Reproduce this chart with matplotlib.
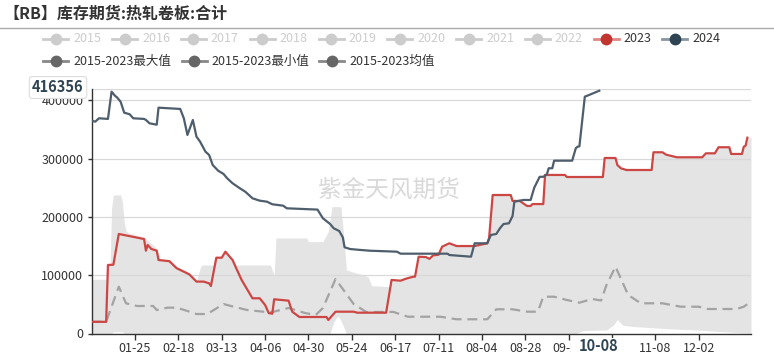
import numpy as np
import matplotlib
matplotlib.use("Agg")
import matplotlib.pyplot as plt
from matplotlib.lines import Line2D
from matplotlib.patches import Rectangle

plt.rcParams['font.family'] = ['Noto Sans CJK SC', 'DejaVu Sans']

# ---------------- data (day index on a 366-day MM-DD axis) ----------------
d2023 = [0, 8, 9, 12, 15, 29, 30, 31, 33, 36, 37, 43, 47, 54, 58, 62, 65, 66, 69, 72, 74, 78, 80, 83,
         89, 93, 96, 98, 100, 101, 109, 111, 115, 130, 131, 135, 145, 147, 163, 166, 171, 174, 178,
         179, 181, 185, 187, 189, 192, 194, 198, 202, 212, 219, 220, 222, 232, 233, 237, 241, 243,
         244, 250, 251, 262, 263, 283, 284, 290, 291, 293, 296, 310, 311, 316, 318, 324, 338, 340,
         345, 347, 353, 354, 360, 361, 362, 363]
v2023 = [20000, 20000, 117500, 118000, 170700, 162000, 142000, 151800, 145000, 142000, 126000,
         124000, 112000, 101500, 89000, 89000, 86000, 81500, 130000, 130000, 140300, 126000, 112000,
         91800, 60400, 60400, 48900, 35000, 34000, 58700, 56300, 37400, 28300, 28300, 23200, 37400,
         37400, 35700, 35700, 91800, 90600, 94000, 97400, 97400, 131700, 131000, 128000, 134000,
         135000, 148900, 154700, 150000, 150000, 154700, 163800, 237500, 237500, 227300, 227300,
         218700, 218700, 222000, 222000, 271900, 271900, 268400, 268400, 301000, 301000, 289000,
         283300, 280400, 280400, 310800, 310800, 306700, 302200, 302200, 309000, 309000, 319400,
         319400, 307900, 307900, 320400, 322000, 335800]

d2024 = [0, 2, 4, 9, 11, 13, 14, 16, 18, 21, 23, 29, 30, 32, 36, 37, 49, 51, 53, 56, 58, 60, 63, 65,
         67, 70, 73, 75, 78, 82, 85, 87, 89, 93, 97, 100, 106, 108, 125, 128, 132, 134, 137, 139,
         140, 143, 149, 154, 169, 171, 197, 198, 210, 212, 219, 221, 224, 226, 228, 231, 233, 234,
         239, 243, 245, 248, 250, 252, 253, 255, 256, 266, 268, 269, 270, 273, 275, 281]
v2024 = [365000, 363300, 369100, 368000, 414700, 407400, 405000, 397600, 378700, 376000, 369100,
         368000, 366300, 360500, 358100, 387300, 385100, 369100, 340500, 366200, 337600, 329000,
         311800, 306200, 289000, 279200, 273600, 266200, 257600, 249100, 243200, 237600, 231900,
         227800, 226100, 221600, 219200, 214700, 212500, 197600, 187800, 180400, 175800, 165000,
         147900, 144900, 143200, 142000, 140300, 136900, 136900, 134600, 131700, 154700, 154700,
         169000, 170700, 180400, 187800, 189000, 201500, 226100, 229000, 229000, 250000, 268700,
         268700, 273100, 283400, 283400, 296400, 296400, 317700, 320400, 321000, 406200, 408600,
         416356]

dmean = [0, 8, 15, 19, 25, 34, 36, 42, 47, 53, 58, 64, 73, 77, 86, 95, 100, 109, 118, 124, 128, 135,
         145, 152, 163, 167, 175, 193, 202, 219, 224, 233, 241, 247, 250, 256, 263, 270, 277, 282,
         285, 290, 297, 304, 316, 326, 336, 341, 357, 361, 365]
vmean = [20200, 20200, 80300, 51800, 47200, 47200, 40300, 44300, 44300, 38600, 33400, 33400, 50600,
         47200, 40300, 37400, 36900, 43700, 35200, 31700, 43700, 93500, 50600, 36900, 36900, 37000,
         28800, 28800, 24400, 24400, 41500, 41500, 37400, 37400, 63100, 63100, 57500, 52800, 59200,
         56600, 83200, 114600, 66000, 51800, 51800, 46000, 46000, 42000, 42000, 46000, 54500]

# 2015-2023 max (part not set by 2023 itself) and min
dmax = [0, 10, 11, 12, 16, 17, 18, 19, 20, 29, 36, 38, 43, 47, 54, 58, 59, 60, 61, 99, 100, 101,
        102, 119, 120, 128, 131, 133, 138, 140, 141, 153, 155, 165]
vmax = [93000, 93000, 215000, 237600, 237600, 225000, 190000, 176000, 173000, 165000, 146000,
        128000, 127000, 115000, 104000, 92000, 100000, 112000, 117500, 117500, 108000, 100000,
        163800, 163800, 157500, 157500, 175000, 217500, 217500, 150000, 109000, 97400, 82000, 80300]
dmin = [0, 11, 12, 17, 18, 132, 134, 136, 137, 139, 141, 268, 272, 285, 289, 291, 294, 300, 320,
        335, 350, 365]
vmin = [0, 0, 3000, 3000, 0, 0, 20000, 28800, 28000, 15000, 0, 0, 5000, 6000, 15000, 24000, 14000,
        12000, 8000, 6000, 3000, 500]

tick_pos = [24, 48, 72, 96, 120, 144, 168, 192, 216, 240, 264, 288, 312, 336]
tick_labels = ['01-25', '02-18', '03-13', '04-06', '04-30', '05-24', '06-17', '07-11', '08-04',
               '08-28', '09-21', '', '11-08', '12-02']
y_ticks = [0, 100000, 200000, 300000, 400000]

legend_row1 = ['2015', '2016', '2017', '2018', '2019', '2020', '2021', '2022', '2023', '2024']
legend_row2 = ['2015-2023最大值', '2015-2023最小值', '2015-2023均值']

# ---------------- figure ----------------
W, H = 774, 357
fig = plt.figure(figsize=(W / 100, H / 100), dpi=100)
def fx(x): return x / W
def fy(y): return 1 - y / H

ax = fig.add_axes([91.7 / W, (H - 333.5) / H, (751 - 91.7) / W, (333.5 - 88.6) / H])

g = np.linspace(0, 365, 7301)
top = np.maximum(np.interp(g, dmax, vmax), np.interp(g, d2023, v2023))
bot = np.interp(g, dmin, vmin)
ax.fill_between(g, bot, top, color='#e4e4e4', lw=0, zorder=1)

for yv in y_ticks[1:] + [420000]:
    ax.axhline(yv, color='#d9d9d9', lw=0.9, zorder=1.5)

ml, = ax.plot(dmean, vmean, color='#a3a3a3', lw=1.6, zorder=2)
ml.set_dashes([4.5, 2.6])
ax.plot(d2023, v2023, color='#cc4744', lw=1.6, zorder=3)
ax.plot(d2024, v2024, color='#4e5e6c', lw=1.6, zorder=4)

ax.set_xlim(0, 365)
ax.set_ylim(0, 420000)
ax.set_xticks(tick_pos)
ax.set_xticklabels(tick_labels)
ax.set_yticks(y_ticks)
ax.set_yticklabels([str(v) for v in y_ticks])
ax.tick_params(axis='x', length=4, width=1, color='#333333', pad=2, labelsize=9, labelcolor='#333333')
ax.tick_params(axis='y', length=3, width=1, color='#333333', pad=3, labelsize=9, labelcolor='#333333')
for s in ['top', 'right']:
    ax.spines[s].set_visible(False)
for s in ['left', 'bottom']:
    ax.spines[s].set_color('#333333')
    ax.spines[s].set_linewidth(1)

# title
fig.text(fx(3), fy(14), '【RB】库存期货:热轧卷板:合计', fontsize=11.5, fontweight='bold',
         color='#333333', ha='left', va='center')
fig.add_artist(Line2D([0, 1], [fy(28.3), fy(28.3)], transform=fig.transFigure, color='#aaaaaa', lw=1))

# legend
def legend_item(x0, y, lc, cc, txt, tc):
    fig.add_artist(Line2D([fx(x0), fx(x0 + 25)], [fy(y), fy(y)], transform=fig.transFigure,
                          color=lc, lw=2))
    fig.add_artist(Line2D([fx(x0 + 12.5)], [fy(y)], transform=fig.transFigure, marker='o',
                          ms=7.5, mfc=cc, mec=cc, lw=0))
    fig.text(fx(x0 + 30), fy(y), txt, ha='left', va='center', fontsize=9, color=tc)

for i, lab in enumerate(legend_row1):
    x0 = 43.3 + 68.8 * i
    if lab == '2023':
        legend_item(x0, 39, '#e08885', '#c23531', lab, '#333333')
    elif lab == '2024':
        legend_item(x0, 39, '#8795a1', '#2f4554', lab, '#333333')
    else:
        legend_item(x0, 39, '#cccccc', '#cccccc', lab, '#cccccc')
for x0, lab in zip([43.3, 181.7, 319], legend_row2):
    legend_item(x0, 61, '#888888', '#666666', lab, '#333333')

# watermark
fig.text(fx(389), fy(190), '紫金天风期货', fontsize=17, color='#d9d9d9', ha='center', va='center')

# axis pointer labels
fig.text(fx(58), fy(87.5), '416356', ha='center', va='center', fontsize=10.5, fontweight='bold',
         color='#2f4554', bbox=dict(boxstyle='round,pad=0.2', fc='white', ec='#dddddd', lw=0.8))
fig.add_artist(Rectangle((fx(571), fy(356)), fx(626) - fx(571), fy(338) - fy(356),
                         transform=fig.transFigure, fc='white', ec='none', zorder=2))
fig.text(fx(598.5), fy(346), '10-08', ha='center', va='center', fontsize=10.5, fontweight='bold',
         color='#2f4554', zorder=3)

fig.savefig('out.png', dpi=100)
